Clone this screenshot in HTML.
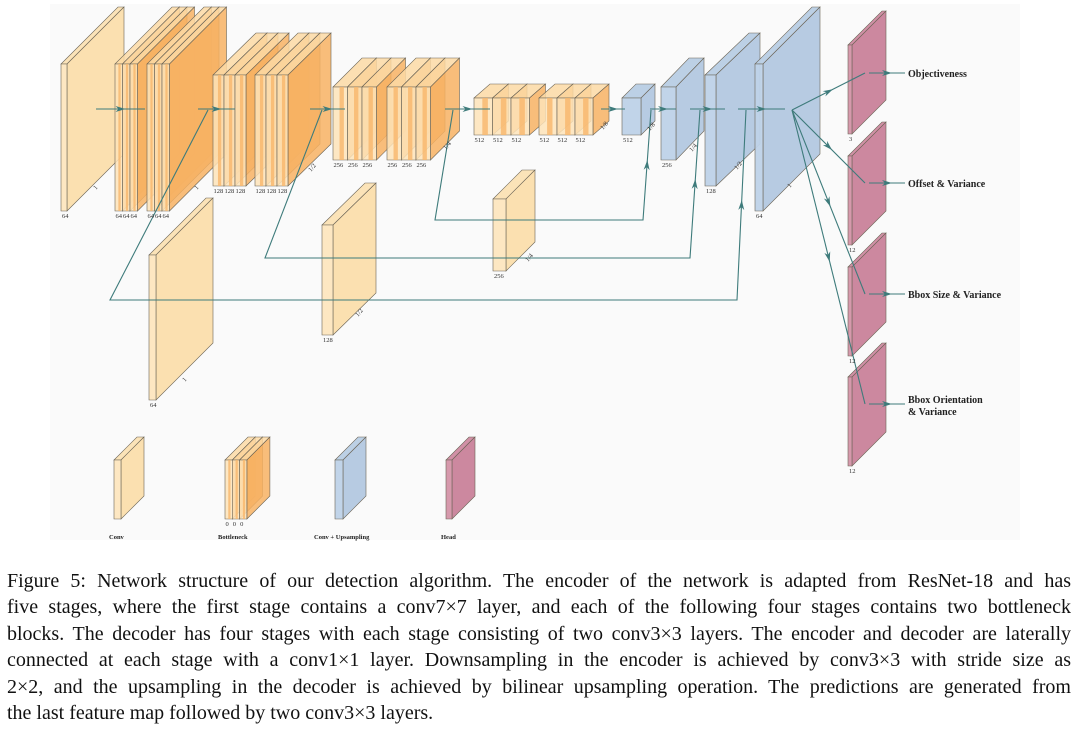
<!DOCTYPE html>
<html><head><meta charset="utf-8"><style>
body{margin:0;background:#fff;width:1079px;height:731px;overflow:hidden;font-family:"Liberation Serif",serif;}
#cap{position:absolute;left:7px;top:568px;width:1064px;font-size:20px;line-height:26.4px;color:#111;}
#cap div{text-align:justify;text-align-last:justify;white-space:nowrap;}
#cap div.last{text-align-last:left;}
</style></head><body>
<svg id="fig" width="1079" height="560" style="position:absolute;left:0;top:0" xmlns="http://www.w3.org/2000/svg">
<rect x="50" y="4" width="970" height="536" fill="#fafafa"/>
<g id="boxes"></g>
<g id="arrows" stroke="#3e7b7b" stroke-width="1.1" fill="none"></g>
<g id="labels" font-family="Liberation Serif, serif" font-size="6.5" fill="#333"></g>
<g font-family="Liberation Serif, serif" font-weight="bold" font-size="10" fill="#222">
<text x="908" y="77">Objectiveness</text>
<text x="908" y="187">Offset &amp; Variance</text>
<text x="908" y="298">Bbox Size &amp; Variance</text>
<text x="908" y="403">Bbox Orientation</text>
<text x="908" y="415">&amp; Variance</text>
</g>
<g font-family="Liberation Serif, serif" font-weight="bold" font-size="6.5" fill="#222">
<text x="109" y="539">Conv</text>
<text x="218" y="539">Bottleneck</text>
<text x="314" y="539">Conv + Upsampling</text>
<text x="441" y="539">Head</text>
</g>
</svg>
<div id="cap">
<div>Figure 5: Network structure of our detection algorithm. The encoder of the network is adapted from ResNet-18 and has</div>
<div>five stages, where the first stage contains a conv7×7 layer, and each of the following four stages contains two bottleneck</div>
<div>blocks. The decoder has four stages with each stage consisting of two conv3×3 layers. The encoder and decoder are laterally</div>
<div>connected at each stage with a conv1×1 layer. Downsampling in the encoder is achieved by conv3×3 with stride size as</div>
<div>2×2, and the upsampling in the decoder is achieved by bilinear upsampling operation. The predictions are generated from</div>
<div class="last">the last feature map followed by two conv3×3 layers.</div>
</div>
<script>
const NS="http://www.w3.org/2000/svg";
const C={conv:["#fde7c2","#fbe3b8","#fbe0b0"],blue:["#bed2e8","#b8cde4","#b3c8e0"],pink:["#d493a8","#cf8aa1","#c9829a"],slab:["#fde3b8","#f8b468","#f7b263"]};
// [x, y, w, h, dx, dy, kind, label, name]
const convs=[[61,64,6,147,57,57,"conv","64","conv1"],[149,255,7,145,57,57,"conv","64","lateral-conv-64"],[322,225,11,110,43,42,"conv","128","lateral-conv-128"],[493,199,13,72,29,29,"conv","256","lateral-conv-256"],
[114,460,7,59,23,23,"conv","","legend-conv-box"]];
const blues=[[622,98,19,37,14,14,"blue","512","decoder-512"],[661,87,15,73,28,29,"blue","256","decoder-256"],[705,75,11,111,44,42,"blue","128","decoder-128"],[755,64,8,147,57,57,"blue","64","decoder-64"],[335,460,8,59,23,23,"blue","","legend-blue-box"]];
const heads=[[848,45,4,89,34,34,"pink","3","head-objectiveness"],[848,156,4,89,34,34,"pink","12","head-offset"],[848,267,4,89,34,34,"pink","12","head-bbox-size"],[848,377,4,89,34,34,"pink","12","head-bbox-orientation"],[446,460,6,59,23,23,"pink","","legend-head-box"]];
// bottleneck groups: [x0, y, slabW, h, dx, dy, count, label, name]
const slabGroups=[[115,64,7.5,147,57,57,3,"64","bottleneck-1a"],[147,64,7.5,147,57,57,3,"64","bottleneck-1b"],[213,75,11,111,43,42,3,"128","bottleneck-2a"],[255,75,11,111,43,42,3,"128","bottleneck-2b"],[333,87,14.5,73,29,29,3,"256","bottleneck-3a"],[387,87,14.5,73,29,29,3,"256","bottleneck-3b"],[474,98,18.5,37,16,14,3,"512","bottleneck-4a"],[539,98,18,37,16,14,3,"512","bottleneck-4b"],[225,460,7.3,59,23,23,3,"0","legend-bottleneck-box"]];
const scaleTags=[[96,190,"1"],[197,190,"1"],[311,172,"1/2"],[446,150,"1/4"],[603,130,"1/8"],[650,131,"1/8"],[692,152,"1/4"],[737,170,"1/2"],[790,188,"1"],[185,382,"1"],[358,317,"1/2"],[528,262,"1/4"]];
const g=document.getElementById('boxes'),L=document.getElementById('labels'),A=document.getElementById('arrows');
function poly(pts,fill,op,par){const p=document.createElementNS(NS,'polygon');p.setAttribute('points',pts.map(q=>q.join(',')).join(' '));p.setAttribute('fill',fill);p.setAttribute('fill-opacity',op);p.setAttribute('stroke','#6b6456');p.setAttribute('stroke-width','0.6');par.appendChild(p);return p;}
function box(b,cols,op,par){const[x,y,w,h,dx,dy]=b;
 poly([[x,y],[x+dx,y-dy],[x+w+dx,y-dy],[x+w,y]],cols[1],op,par);
 poly([[x+w,y],[x+w+dx,y-dy],[x+w+dx,y+h-dy],[x+w,y+h]],cols[2],op,par);
 poly([[x,y],[x+w,y],[x+w,y+h],[x,y+h]],cols[0],op,par);}
function txt(x,y,s,par,rot){const t=document.createElementNS(NS,'text');t.setAttribute('x',x);t.setAttribute('y',y);if(rot)t.setAttribute('transform','rotate(-50 '+x+' '+y+')');t.textContent=s;par.appendChild(t);return t;}
function simple(list){list.forEach(b=>{const gg=document.createElementNS(NS,'g');


g.appendChild(gg);box(b,C[b[6]],b[6]=="conv"?1:0.95,gg);if(b[7])txt(b[0]+1,b[1]+b[3]+7,b[7],L);});}
simple(convs);
slabGroups.forEach(s=>{const gg=document.createElementNS(NS,'g');


g.appendChild(gg);
for(let i=0;i<s[6];i++){const x=s[0]+i*s[2];box([x,s[1],s[2],s[3],s[4],s[5]],[C.slab[0],"#fcd9a4","#f7b263"],0.85,gg);
 const r=document.createElementNS(NS,'rect');r.setAttribute('x',x+s[2]*0.45);r.setAttribute('y',s[1]);r.setAttribute('width',s[2]*0.3);r.setAttribute('height',s[3]);r.setAttribute('fill','#f8b76c');r.setAttribute('opacity','0.8');gg.appendChild(r);
 txt(x+0.5,s[1]+s[3]+7,s[7],L);}});
simple(blues);simple(heads);
scaleTags.forEach(t=>{txt(t[0],t[1],t[2],L,true);});
const paths=[
[[96,109],[145,109]],[[198,109],[235,109]],[[310,109],[345,109]],[[445,109],[490,109]],[[601,109],[625,109]],[[650,109],[676,109]],[[690,109],[725,109]],[[738,109],[785,109]],
[[208,110],[110,300],[737,300],[746,110]],
[[322,110],[265,258],[690,258],[700,110]],
[[453,110],[435,220],[643,220],[651,110]],
[[792,110],[865,73]],[[792,110],[865,183]],[[792,110],[865,294]],[[792,110],[865,404]],
[[869,73],[905,73]],[[869,183],[905,183]],[[869,294],[905,294]],[[869,404],[905,404]]];
paths.forEach((p,i)=>{const e=document.createElementNS(NS,'polyline');e.setAttribute('points',p.map(q=>q.join(',')).join(' '));


A.appendChild(e);
 const a=p[p.length-2],b=p[p.length-1];const mx=(a[0]+b[0])/2,my=(a[1]+b[1])/2;const ang=Math.atan2(b[1]-a[1],b[0]-a[0]);
 const h=document.createElementNS(NS,'polygon');const s=5;
 const pts=[[mx+s*Math.cos(ang),my+s*Math.sin(ang)],[mx-s*Math.cos(ang)+3*Math.sin(ang),my-s*Math.sin(ang)-3*Math.cos(ang)],[mx-s*0.4*Math.cos(ang),my-s*0.4*Math.sin(ang)],[mx-s*Math.cos(ang)-3*Math.sin(ang),my-s*Math.sin(ang)+3*Math.cos(ang)]];
 h.setAttribute('points',pts.map(q=>q.join(',')).join(' '));h.setAttribute('fill','#3e7b7b');h.setAttribute('stroke','none');A.appendChild(h);});
</script>
</body></html>
